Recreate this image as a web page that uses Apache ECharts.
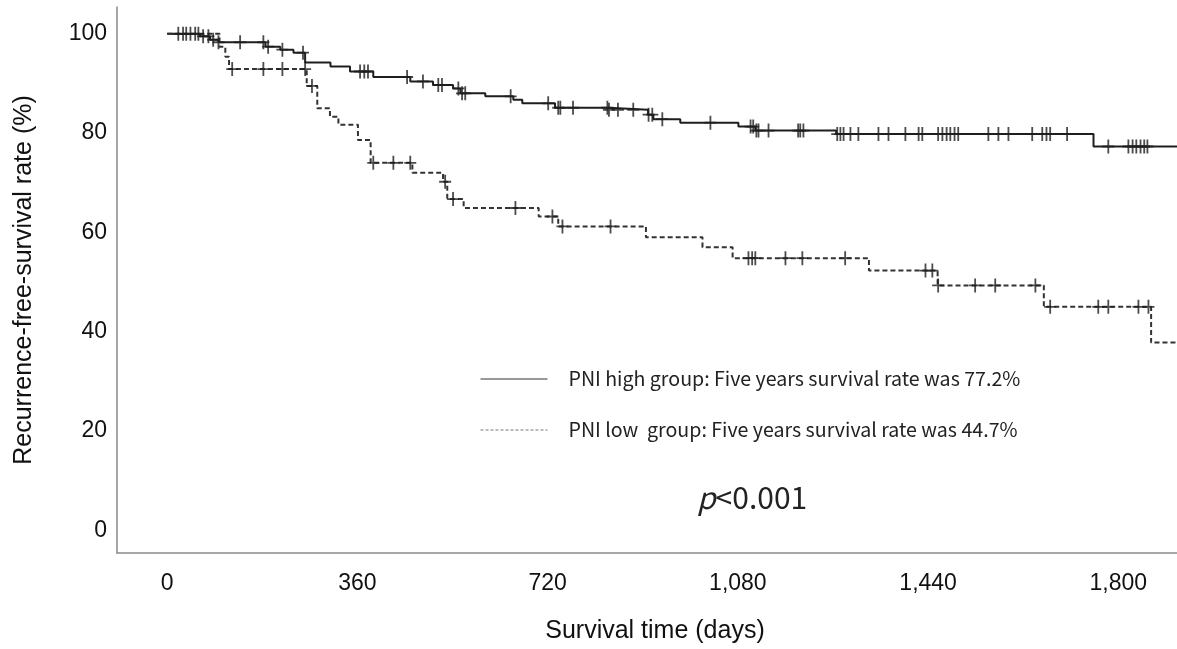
<!DOCTYPE html>
<html>
<head>
<meta charset="utf-8">
<title>Recurrence-free survival by PNI group</title>
<script src="https://cdn.jsdelivr.net/npm/echarts@6/dist/echarts.min.js"></script>
<style>
  html, body { margin: 0; padding: 0; background: #fff; }
  #chart { width: 1177px; height: 649px; }
</style>
</head>
<body>
<div id="chart"></div>
<script>
// Kaplan-Meier steps: day of each drop and survival (%) after it
const highDays = [0, 62, 81, 97, 186, 214, 239, 261, 309, 346, 390, 460, 503, 541, 555, 602, 655, 672, 734, 835, 910, 920, 971, 1081, 1113, 1266, 1753, 1911];
const highSurv = [100, 99.5, 98.8, 98.3, 97.4, 96.8, 96.2, 94.2, 93.4, 92.4, 91.3, 90.4, 89.7, 89.0, 88.0, 87.4, 86.7, 86.0, 85.1, 84.7, 83.7, 82.8, 82.1, 81.3, 80.5, 79.8, 77.3, 77.3];
// censored cases (+ marks), days
const highCensor = [21, 30, 36, 44, 53, 59, 68, 78, 87, 97, 138, 182, 191, 218, 257, 365, 373, 380, 454, 484, 513, 520, 551, 558, 564, 650, 721, 740, 744, 768, 833, 836, 853, 882, 911, 918, 937, 1028, 1104, 1109, 1115, 1119, 1138, 1194, 1198, 1204, 1268, 1274, 1280, 1293, 1308, 1346, 1365, 1397, 1422, 1429, 1459, 1467, 1475, 1482, 1490, 1497, 1554, 1573, 1592, 1637, 1656, 1664, 1671, 1703, 1781, 1819, 1827, 1834, 1842, 1849, 1855];

const lowDays = [0, 99, 110, 117, 264, 284, 308, 324, 361, 385, 464, 522, 530, 561, 703, 740, 906, 1013, 1070, 1328, 1458, 1659, 1862, 1911];
const lowSurv = [100, 97.4, 95.4, 92.9, 89.5, 85.0, 83.3, 81.7, 78.6, 74.0, 72.0, 70.2, 66.7, 64.9, 63.2, 61.2, 59.0, 57.0, 54.8, 52.3, 49.3, 45.0, 37.8, 37.8];
const lowCensor = [123, 182, 218, 261, 274, 390, 428, 460, 526, 541, 659, 729, 748, 839, 1100, 1107, 1113, 1170, 1202, 1283, 1435, 1448, 1459, 1529, 1567, 1643, 1671, 1762, 1781, 1838, 1857];

const xTicks = [0, 360, 720, 1080, 1440, 1800];
const yTicks = [0, 20, 40, 60, 80, 100];
const highName = 'PNI high group: Five years survival rate was 77.2%';
const lowName = 'PNI low  group: Five years survival rate was 44.7%';

// survival value of a step curve at day t
function survAt(days, surv, t) {
  let s = surv[0];
  for (let i = 0; i < days.length; i++) {
    if (days[i] <= t) s = surv[i];
  }
  return s;
}

const plus = 'path://M-0.15,-1 H0.15 V-0.13 H1 V0.13 H0.15 V1 H-0.15 V0.13 H-1 V-0.13 H-0.15 Z';
const axisFont = 'Liberation Sans, Arial, sans-serif';
const jpFont = 'Noto Sans CJK JP, Noto Sans, sans-serif';

let chart = echarts.init(document.getElementById('chart'));
chart.setOption({
  animation: false,
  backgroundColor: '#fff',
  grid: { left: 117, right: 0, top: 7, bottom: 96 },
  xAxis: {
    type: 'value',
    min: -95,
    max: 1911,
    name: 'Survival time (days)',
    nameLocation: 'middle',
    nameGap: 66,
    nameTextStyle: { fontFamily: axisFont, fontSize: 25, color: '#111', padding: [0, 0, 0, 16] },
    axisLine: { show: true, onZero: false, lineStyle: { color: '#8a8a8a', width: 1.5 } },
    axisTick: { show: false },
    splitLine: { show: false },
    axisLabel: {
      customValues: xTicks,
      margin: 19,
      fontFamily: axisFont,
      fontSize: 23,
      color: '#111',
      formatter: (v) => Number(v).toLocaleString('en-US')
    }
  },
  yAxis: {
    type: 'value',
    min: -4.6,
    max: 105.4,
    name: 'Recurrence-free-survival rate (%)',
    nameLocation: 'middle',
    nameGap: 80,
    nameTextStyle: { fontFamily: axisFont, fontSize: 25, color: '#111' },
    axisLine: { show: true, onZero: false, lineStyle: { color: '#8a8a8a', width: 1.5 } },
    axisTick: { show: false },
    splitLine: { show: false },
    axisLabel: {
      customValues: yTicks,
      margin: 10,
      fontFamily: axisFont,
      fontSize: 23,
      color: '#111'
    }
  },
  legend: {
    orient: 'vertical',
    left: 480,
    top: 369,
    padding: 0,
    itemWidth: 67,
    itemHeight: 20,
    itemGap: 31,
    selectedMode: false,
    itemStyle: { opacity: 0 },
    textStyle: { fontFamily: jpFont, fontSize: 19.6, color: '#222', padding: [0, 0, 0, 16], lineHeight: 20 },
    data: [
      { name: highName, itemStyle: { opacity: 0 }, lineStyle: { color: '#333', width: 1, type: 'solid' } },
      { name: lowName, itemStyle: { opacity: 0 }, lineStyle: { color: '#777', width: 1, type: [3, 2] } }
    ]
  },
  graphic: [{
    type: 'text',
    left: 697,
    top: 483,
    style: {
      text: '{i|p}{n|<0.001}',
      rich: {
        i: { fontFamily: jpFont, fontSize: 30, fontStyle: 'italic', fill: '#222' },
        n: { fontFamily: jpFont, fontSize: 30, fill: '#222' }
      }
    }
  }],
  series: [
    {
      name: highName,
      type: 'line',
      step: 'end',
      showSymbol: false,
      symbol: 'none',
      color: '#1e1e1e',
      lineStyle: { color: '#1e1e1e', width: 2 },
      data: highDays.map((d, i) => [d, highSurv[i]]),
      z: 2
    },
    {
      name: lowName,
      type: 'line',
      step: 'end',
      showSymbol: false,
      symbol: 'none',
      color: '#333',
      lineStyle: { color: '#333', width: 2, type: [5, 3] },
      data: lowDays.map((d, i) => [d, lowSurv[i]]),
      z: 2
    },
    {
      type: 'scatter',
      symbol: plus,
      symbolSize: [12, 14],
      itemStyle: { color: '#1e1e1e' },
      data: highCensor.map((d) => [d, survAt(highDays, highSurv, d)]),
      z: 3
    },
    {
      type: 'scatter',
      symbol: plus,
      symbolSize: [12, 14],
      itemStyle: { color: '#1e1e1e' },
      data: lowCensor.map((d) => [d, survAt(lowDays, lowSurv, d)]),
      z: 3
    }
  ]
});
</script>
</body>
</html>
